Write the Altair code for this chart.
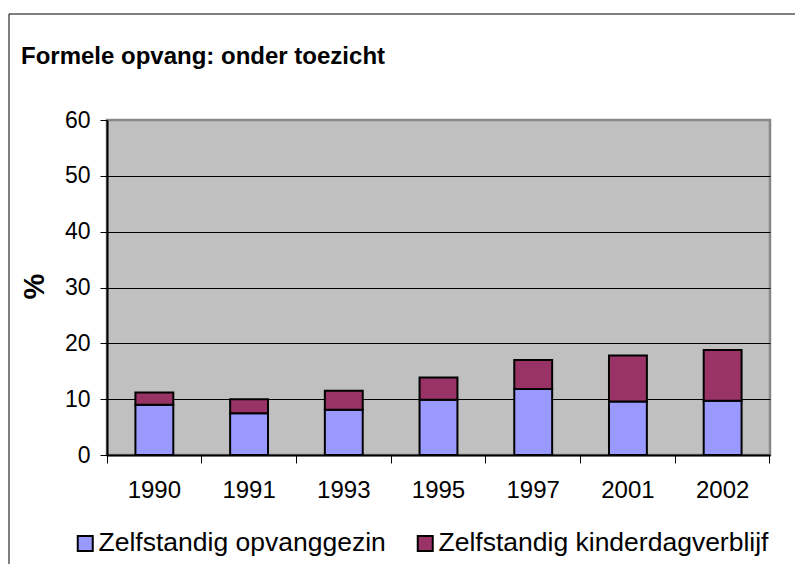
import altair as alt
import pandas as pd

years = ["1990", "1991", "1993", "1995", "1997", "2001", "2002"]
opvanggezin = [9.0, 7.5, 8.1, 9.9, 11.8, 9.6, 9.7]
kinderdagverblijf = [2.2, 2.5, 3.4, 4.0, 5.2, 8.2, 9.1]
series = ["Zelfstandig opvanggezin", "Zelfstandig kinderdagverblijf"]
colors = ["#9999FF", "#993366"]
y_ticks = [0, 10, 20, 30, 40, 50, 60]
title_text = "Formele opvang: onder toezicht"
y_title = "%"

rows = []
for i, yr in enumerate(years):
    rows.append({"jaar": yr, "reeks": series[0], "volgorde": 0, "waarde": opvanggezin[i]})
    rows.append({"jaar": yr, "reeks": series[1], "volgorde": 1, "waarde": kinderdagverblijf[i]})
df = pd.DataFrame(rows)

FONT = "Liberation Sans, Arial, sans-serif"

bars = alt.Chart(df).mark_bar(
    width=alt.RelativeBandSize(0.4), stroke="black", strokeWidth=2
).encode(
    x=alt.X(
        "jaar:N", sort=years,
        scale=alt.Scale(paddingInner=0, paddingOuter=0),
        axis=alt.Axis(
            title=None, labelAngle=0, bandPosition=1, tickExtra=True,
            tickSize=8, tickColor="black", domainColor="black", domainWidth=2,
            labelFontSize=24, labelFont=FONT, labelColor="black",
            labelBaseline="alphabetic", labelPadding=34, grid=False,
        ),
    ),
    y=alt.Y(
        "waarde:Q", stack="zero",
        scale=alt.Scale(domain=[0, 60], nice=False),
        axis=alt.Axis(
            values=y_ticks, title=y_title, titleFontSize=29, titleFontWeight="bold",
            titleFont=FONT, titleColor="black", titleAngle=270,
            titleAlign="center", titleBaseline="middle", titleX=-73, titleY=166,
            tickSize=7, tickColor="black", domainColor="black", domainWidth=2,
            labelFontSize=23, labelFont=FONT, labelColor="black", labelPadding=10,
            grid=True, gridWidth=1,
            gridColor=alt.condition("datum.value === 60", alt.value("#888888"), alt.value("black")),
        ),
    ),
    color=alt.Color(
        "reeks:N",
        scale=alt.Scale(domain=series, range=colors),
        legend=alt.Legend(
            title=None, orient="none", legendX=-35, legendY=410,
            direction="horizontal", symbolType="square", symbolSize=225,
            symbolStrokeColor="black", symbolStrokeWidth=2, symbolOpacity=1,
            labelFontSize=26.5, labelFont=FONT, labelColor="black", labelLimit=0,
            labelOffset=0, columnPadding=26, padding=0,
        ),
    ),
    order=alt.Order("volgorde:Q"),
)

frame_data = alt.Data(values=[{"k": 0}])
vline = alt.Chart(frame_data).mark_rule(color="black", strokeWidth=1).encode(
    x=alt.value(-98), y=alt.value(-106), y2=alt.value(700)
)
hline = alt.Chart(frame_data).mark_rule(color="black", strokeWidth=1).encode(
    x=alt.value(-98), x2=alt.value(900), y=alt.value(-106)
)
title_mark = alt.Chart(alt.Data(values=[{"t": title_text}])).mark_text(
    align="left", baseline="alphabetic", font=FONT, fontSize=24,
    fontWeight="bold", color="black",
).encode(x=alt.value(-86), y=alt.value(-56), text="t:N")

chart = alt.layer(vline, hline, title_mark, bars).properties(
    width=663,
    height=335,
    background="white",
    autosize=alt.AutoSizeParams(type="none"),
    padding={"left": 99, "top": 112, "right": 25, "bottom": 109},
).configure_view(
    fill="#C0C0C0", stroke="#888888", strokeWidth=2.5
)

chart.save("out.html", embed_options={"renderer": "svg", "actions": False})
